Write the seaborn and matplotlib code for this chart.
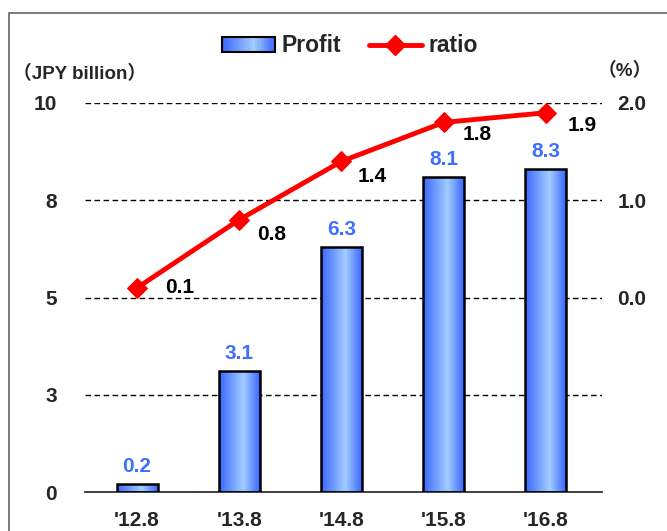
import numpy as np
import matplotlib
matplotlib.use("Agg")
import matplotlib.pyplot as plt
import seaborn as sns
from matplotlib.colors import LinearSegmentedColormap
from matplotlib.patches import Rectangle
from matplotlib.lines import Line2D
from matplotlib.legend_handler import HandlerBase

# Data
periods = ["'12.8", "'13.8", "'14.8", "'15.8", "'16.8"]
profit = [0.2, 3.1, 6.3, 8.1, 8.3]          # JPY billion
ratio = [0.1, 0.8, 1.4, 1.8, 1.9]           # %
left_ticks = [0, 2.5, 5, 7.5, 10]
left_tick_labels = ["0", "3", "5", "8", "10"]
right_ticks = [0, 1, 2]
right_tick_labels = ["0.0", "1.0", "2.0"]

sns.set_theme(style="white")
FONT = ["Liberation Sans Narrow", "Liberation Sans", "Noto Sans CJK JP", "DejaVu Sans"]
plt.rcParams["font.family"] = FONT
plt.rcParams["font.weight"] = "bold"

BLUE_TXT = "#3f6fff"
bar_cmap = LinearSegmentedColormap.from_list(
    "barfill", [(0.0, "#3a66ff"), (0.6, "#a2cdff"), (1.0, "#3a66ff")])

fig = plt.figure(figsize=(6.67, 5.31), dpi=100)
ax = fig.add_axes([85 / 667, 39 / 531, 517 / 667, 389 / 531])

sns.barplot(x=periods, y=profit, ax=ax, width=0.4, facecolor="none",
            edgecolor="black", linewidth=1.8, zorder=3)

# horizontal gradient fill clipped to each bar
grad = np.linspace(0, 1, 256).reshape(1, -1)
for p in ax.patches:
    x0, y0 = p.get_x(), p.get_y()
    w, h = p.get_width(), p.get_height()
    im = ax.imshow(grad, cmap=bar_cmap, aspect="auto",
                   extent=[x0, x0 + w, y0, y0 + h], zorder=2,
                   interpolation="bilinear")
    im.set_clip_path(p)

for i, v in enumerate(profit):
    ax.annotate(f"{v:.1f}", (i, v), xytext=(0, 6), textcoords="offset points",
                ha="center", va="bottom", color=BLUE_TXT, fontsize=15,
                fontweight="bold")

ax.set_xlim(-0.51, 4.55)
ax.set_ylim(0, 10)
ax.set_yticks(left_ticks)
ax.set_yticklabels(left_tick_labels, fontsize=15, fontweight="bold")
ax.tick_params(axis="y", length=0, pad=20)
ax.tick_params(axis="x", length=0, pad=14, labelsize=15)
for lab in ax.get_xticklabels():
    lab.set_fontweight("bold")
ax.set_xlabel("")
ax.set_ylabel("")
ax.yaxis.grid(True, linestyle=(0, (4, 2.5)), color="black", linewidth=1)
ax.set_axisbelow(True)
for s in ["left", "right", "top"]:
    ax.spines[s].set_visible(False)
ax.spines["bottom"].set_color("#333333")
ax.spines["bottom"].set_linewidth(1.3)

ax2 = ax.twinx()
sns.lineplot(x=np.arange(len(periods)), y=ratio, ax=ax2, color="#ff0000",
             linewidth=3.5, marker="D", markersize=10, markeredgecolor="#ff0000",
             zorder=5)
ax2.set_ylim(-2, 2)
ax2.set_yticks(right_ticks)
ax2.set_yticklabels(right_tick_labels, fontsize=15, fontweight="bold")
ax2.tick_params(axis="y", length=0, pad=11)
ax2.set_ylabel("")
for s in ax2.spines.values():
    s.set_visible(False)
ax2.grid(False)

# ratio value labels sit to the lower right of each marker
label_offsets = [(31, 0), (23, -11), (22, -11), (24, -9), (26, -9)]
for i, v in enumerate(ratio):
    ax2.annotate(f"{v:.1f}", (i, v), xytext=label_offsets[i],
                 textcoords="offset points", ha="center", va="center",
                 color="black", fontsize=15, fontweight="bold")

# axis unit captions
fig.text(13 / 667, 1 - 74 / 531, "（JPY billion）", ha="left", va="center",
         fontsize=13.5, fontweight="bold", family=FONT)
fig.text(625 / 667, 1 - 71 / 531, "（%）", ha="center", va="center",
         fontsize=13.5, fontweight="bold", family=FONT)


class GradientHandler(HandlerBase):
    def create_artists(self, legend, orig_handle, xdescent, ydescent,
                       width, height, fontsize, trans):
        n = 24
        arts = []
        for k in range(n):
            r = Rectangle((-xdescent + width * k / n, -ydescent), width / n + 0.3,
                          height, facecolor=bar_cmap((k + 0.5) / n),
                          edgecolor="none", transform=trans)
            arts.append(r)
        arts.append(Rectangle((-xdescent, -ydescent), width, height,
                              facecolor="none", edgecolor="black", lw=1.5,
                              transform=trans))
        return arts


profit_handle = Rectangle((0, 0), 1, 1)
ratio_handle = Line2D([], [], color="#ff0000", lw=3.5, marker="D", markersize=10)
fig.legend([profit_handle, ratio_handle], ["Profit", "ratio"],
           handler_map={Rectangle: GradientHandler()},
           loc="center", bbox_to_anchor=(350 / 667, 1 - 46 / 531), ncol=2,
           frameon=False, handlelength=2.3, handleheight=0.6,
           columnspacing=1.2, handletextpad=0.3,
           prop={"weight": "bold", "size": 16.5, "family": FONT})

# outer frame
fig.patches.append(Rectangle((9 / 667, -0.2), 1.5, 0.2 + 1 - 13 / 531,
                             transform=fig.transFigure, fill=False,
                             edgecolor="#666666", linewidth=1.2, clip_on=False))

fig.savefig("out.png", dpi=100)
